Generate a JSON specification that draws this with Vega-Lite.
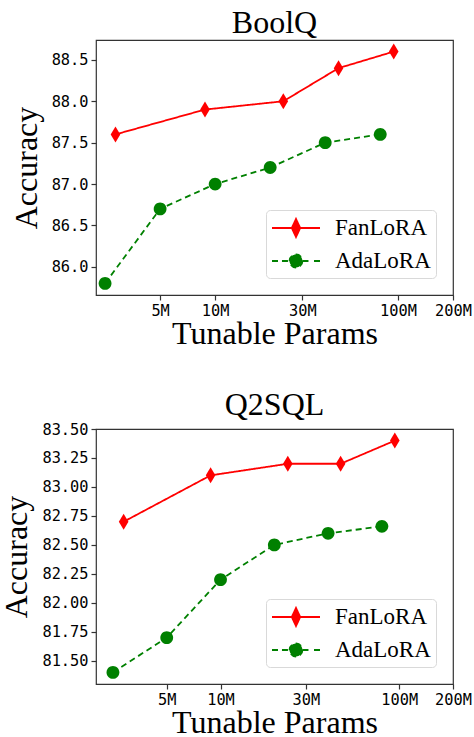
{
  "$schema": "https://vega.github.io/schema/vega-lite/v6.json",
  "padding": {"left": 0, "top": 6, "right": 0, "bottom": 0},
  "background": "white",
  "spacing": 38,
  "align": "all",
  "vconcat": [
    {
      "title": {"text": "BoolQ", "offset": 0},
      "width": 357,
      "height": 255,
      "data": {"values": [
        {"method": "FanLoRA", "params": 2850000, "acc": 87.6},
        {"method": "FanLoRA", "params": 8800000, "acc": 87.9},
        {"method": "FanLoRA", "params": 23600000, "acc": 88.0},
        {"method": "FanLoRA", "params": 47300000, "acc": 88.4},
        {"method": "FanLoRA", "params": 94800000, "acc": 88.6},
        {"method": "AdaLoRA", "params": 2500000, "acc": 85.8},
        {"method": "AdaLoRA", "params": 5000000, "acc": 86.7},
        {"method": "AdaLoRA", "params": 10000000, "acc": 87.0},
        {"method": "AdaLoRA", "params": 20000000, "acc": 87.2},
        {"method": "AdaLoRA", "params": 40000000, "acc": 87.5},
        {"method": "AdaLoRA", "params": 80000000, "acc": 87.6}
      ]},
      "encoding": {
        "x": {"field": "params", "type": "quantitative", "title": "Tunable Params",
              "scale": {"type": "log", "domain": [2230000, 200000000], "nice": false},
              "axis": {"values": [5000000, 10000000, 30000000, 100000000, 200000000], "labelExpr": "(datum.value/1000000) + 'M'"}},
        "y": {"field": "acc", "type": "quantitative", "title": "Accuracy",
              "scale": {"domain": [85.66, 88.74], "nice": false, "zero": false},
              "axis": {"values": [86.0, 86.5, 87.0, 87.5, 88.0, 88.5], "format": ".1f"}},
        "color": {"field": "method", "type": "nominal", "title": null,
                  "scale": {"domain": ["FanLoRA", "AdaLoRA"], "range": ["#ff0000", "#008000"]},
                  "legend": {"orient": "bottom-right", "offset": 17, "symbolSize": 576}}
      },
      "layer": [
        {"mark": {"type": "line", "strokeWidth": 1.8},
         "encoding": {"strokeDash": {"field": "method", "type": "nominal", "title": null, "legend": null,
                       "scale": {"domain": ["FanLoRA", "AdaLoRA"], "range": [[1, 0], [6, 4]]}}}},
        {"transform": [{"filter": "datum.method == 'FanLoRA'"}],
         "mark": {"type": "point", "filled": true, "opacity": 1, "size": 256, "strokeWidth": 1, "shape": "M0,-1L0.6,0L0,1L-0.6,0Z"}},
        {"transform": [{"filter": "datum.method == 'AdaLoRA'"}],
         "mark": {"type": "point", "filled": true, "opacity": 1, "size": 256, "strokeWidth": 1, "shape": "M0.8,0A0.8,0.8 0 1,1 -0.8,0A0.8,0.8 0 1,1 0.8,0Z"}},
        {"transform": [{"filter": "datum.acc < 0"}],
         "mark": {"type": "point", "filled": true, "opacity": 1},
         "encoding": {"shape": {"field": "method", "type": "nominal", "title": null,
           "scale": {"domain": ["FanLoRA", "AdaLoRA"], "range": ["M-1,0H3M1,-0.75L1.35,0L1,0.75L0.65,0Z", "M-1,0H-0.5M-0.17,0H0.46M1.54,0H2.17M2.5,0H3M1.54,0A0.54,0.54 0 1,1 0.46,0A0.54,0.54 0 1,1 1.54,0Z"]}}}}
      ]
    },
    {
      "title": {"text": "Q2SQL", "offset": 0},
      "width": 357,
      "height": 255,
      "data": {"values": [
        {"method": "FanLoRA", "params": 2870000, "acc": 82.7},
        {"method": "FanLoRA", "params": 8800000, "acc": 83.1},
        {"method": "FanLoRA", "params": 23800000, "acc": 83.2},
        {"method": "FanLoRA", "params": 47000000, "acc": 83.2},
        {"method": "FanLoRA", "params": 94500000, "acc": 83.4},
        {"method": "AdaLoRA", "params": 2500000, "acc": 81.4},
        {"method": "AdaLoRA", "params": 5000000, "acc": 81.7},
        {"method": "AdaLoRA", "params": 10000000, "acc": 82.2},
        {"method": "AdaLoRA", "params": 20000000, "acc": 82.5},
        {"method": "AdaLoRA", "params": 40000000, "acc": 82.6},
        {"method": "AdaLoRA", "params": 80000000, "acc": 82.66}
      ]},
      "encoding": {
        "x": {"field": "params", "type": "quantitative", "title": "Tunable Params",
              "scale": {"type": "log", "domain": [2010000, 200000000], "nice": false},
              "axis": {"values": [5000000, 10000000, 30000000, 100000000, 200000000], "labelExpr": "(datum.value/1000000) + 'M'"}},
        "y": {"field": "acc", "type": "quantitative", "title": "Accuracy",
              "scale": {"domain": [81.3, 83.5], "nice": false, "zero": false},
              "axis": {"values": [81.5, 81.75, 82.0, 82.25, 82.5, 82.75, 83.0, 83.25, 83.5], "format": ".2f"}},
        "color": {"field": "method", "type": "nominal", "title": null,
                  "scale": {"domain": ["FanLoRA", "AdaLoRA"], "range": ["#ff0000", "#008000"]},
                  "legend": {"orient": "bottom-right", "offset": 17, "symbolSize": 576}}
      },
      "layer": [
        {"mark": {"type": "line", "strokeWidth": 1.8},
         "encoding": {"strokeDash": {"field": "method", "type": "nominal", "title": null, "legend": null,
                       "scale": {"domain": ["FanLoRA", "AdaLoRA"], "range": [[1, 0], [6, 4]]}}}},
        {"transform": [{"filter": "datum.method == 'FanLoRA'"}],
         "mark": {"type": "point", "filled": true, "opacity": 1, "size": 256, "strokeWidth": 1, "shape": "M0,-1L0.6,0L0,1L-0.6,0Z"}},
        {"transform": [{"filter": "datum.method == 'AdaLoRA'"}],
         "mark": {"type": "point", "filled": true, "opacity": 1, "size": 256, "strokeWidth": 1, "shape": "M0.8,0A0.8,0.8 0 1,1 -0.8,0A0.8,0.8 0 1,1 0.8,0Z"}},
        {"transform": [{"filter": "datum.acc < 0"}],
         "mark": {"type": "point", "filled": true, "opacity": 1},
         "encoding": {"shape": {"field": "method", "type": "nominal", "title": null,
           "scale": {"domain": ["FanLoRA", "AdaLoRA"], "range": ["M-1,0H3M1,-0.75L1.35,0L1,0.75L0.65,0Z", "M-1,0H-0.5M-0.17,0H0.46M1.54,0H2.17M2.5,0H3M1.54,0A0.54,0.54 0 1,1 0.46,0A0.54,0.54 0 1,1 1.54,0Z"]}}}}
      ]
    }
  ],
  "resolve": {
    "scale": {"x": "independent", "y": "independent", "color": "independent", "strokeDash": "independent", "shape": "independent"},
    "legend": {"color": "independent", "strokeDash": "independent", "shape": "independent"}
  },
  "config": {
    "view": {"stroke": "#333333", "strokeWidth": 1.2},
    "axis": {"grid": false, "domain": false, "tickColor": "#333333", "tickSize": 5, "tickWidth": 1.2,
             "labelFont": "DejaVu Sans Mono", "labelFontSize": 15.3, "labelColor": "#000000", "labelPadding": 3,
             "labelOverlap": false, "labelBound": false, "labelFlush": false,
             "titleFont": "Liberation Serif", "titleFontSize": 32, "titleFontWeight": "normal", "titleColor": "#000000"},
    "axisX": {"titlePadding": 0},
    "axisY": {"titlePadding": 8},
    "title": {"font": "Liberation Serif", "fontSize": 32, "fontWeight": "normal", "color": "#000000"},
    "legend": {"labelFont": "Liberation Serif", "labelFontSize": 23, "labelColor": "#000000", "labelOffset": 38,
               "fillColor": "white", "strokeColor": "#d9d9d9", "cornerRadius": 4, "padding": 5, "rowPadding": 7,
               "symbolStrokeWidth": 1.8, "symbolOpacity": 1}
  }
}
